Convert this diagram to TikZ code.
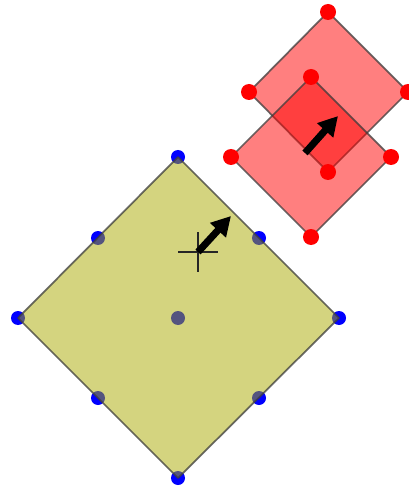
\documentclass[tikz,border=0pt]{standalone}
\usetikzlibrary{arrows.meta}
\definecolor{ShapeOlive}{RGB}{169,169,0}
\definecolor{ShapeRed}{RGB}{255,0,0}
\definecolor{ShapeEdge}{RGB}{60,60,60}
\definecolor{DotBlue}{RGB}{0,0,255}
\definecolor{DotRed}{RGB}{255,0,0}

\begin{document}
\begin{tikzpicture}[x=0.01cm,y=-0.01cm]
    \tikzset{sq/.style={draw=ShapeEdge,draw opacity=0.75,line width=0.5pt,line join=round},
             bdot/.style={fill=DotBlue},
             rdot/.style={fill=DotRed},
             mv/.style={line width=2pt,-{Triangle[length=5.5pt,width=5.8pt]}}}
    \useasboundingbox (0,0) rectangle (408,488);
    % big square, dots below its fill
    \foreach \p in {(178,157),(18,318),(339,318),(178,478),(98,238),(259,238),(98,398),(259,398),(178,318)}
      \fill[bdot] \p circle (7);
    \draw[sq,fill=ShapeOlive,fill opacity=0.5] (178,157) -- (339,318) -- (178,478) -- (18,318) -- cycle;
    % two red squares
    \draw[sq,fill=ShapeRed,fill opacity=0.5] (328,12) -- (408,92) -- (328,172) -- (249,92) -- cycle;
    \draw[sq,fill=ShapeRed,fill opacity=0.5] (311,77) -- (391,157) -- (311,237) -- (231,157) -- cycle;
    \foreach \p in {(328,12),(408,92),(328,172),(249,92),(311,77),(391,157),(311,237),(231,157)}
      \fill[rdot] \p circle (8);
    % cross and move arrows
    \coordinate (c) at (198,252);
    \coordinate (ct) at (231,216);
    \coordinate (r) at (305,153);
    \coordinate (rt) at (338,116);
    \draw[line width=0.65pt,draw=black!85] (178,252) -- (218,252) (198,232) -- (198,272);
    \draw[mv] (c) -- (ct);
    \draw[mv] (r) -- (rt);
  \end{tikzpicture}
\end{document}
